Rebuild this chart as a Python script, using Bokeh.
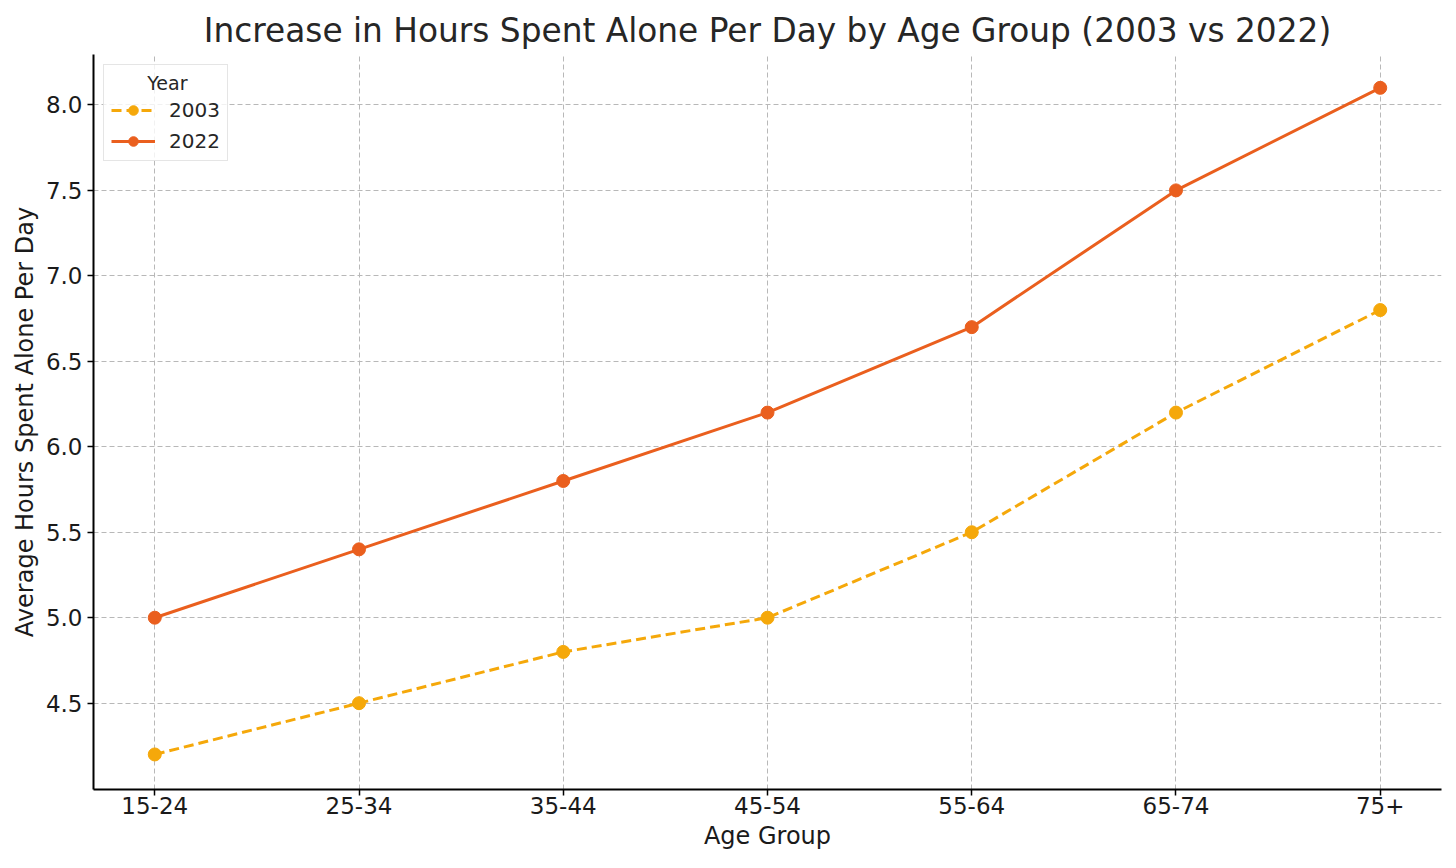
from bokeh.plotting import figure
from bokeh.models import Range1d, FixedTicker, Legend, LegendItem, CustomJSTickFormatter
from bokeh.embed import file_html
from bokeh.resources import INLINE

age_groups = ["15-24", "25-34", "35-44", "45-54", "55-64", "65-74", "75+"]
hours_2003 = [4.2, 4.5, 4.8, 5.0, 5.5, 6.2, 6.8]
hours_2022 = [5.0, 5.4, 5.8, 6.2, 6.7, 7.5, 8.1]
y_ticks = [4.5, 5.0, 5.5, 6.0, 6.5, 7.0, 7.5, 8.0]
legend_title = "Year"

x_idx = list(range(len(age_groups)))
FONT = "DejaVu Sans"
C2003 = "#F5A80A"
C2022 = "#EA5F1E"

p = figure(width=1442, height=852, output_backend="svg", toolbar_location=None,
           x_range=Range1d(-0.3, len(age_groups) - 1 + 0.3),
           y_range=Range1d(3.995, 8.295),
           title="Increase in Hours Spent Alone Per Day by Age Group (2003 vs 2022)",
           min_border_left=93, min_border_right=1, min_border_top=54, min_border_bottom=55)

p.title.text_font = FONT
p.title.text_font_size = "32.8px"
p.title.text_font_style = "normal"
p.title.text_color = "#262626"
p.title.align = "center"
p.title.standoff = 10

p.outline_line_color = None

p.xaxis.ticker = FixedTicker(ticks=x_idx)
p.xaxis.major_label_overrides = {i: g for i, g in enumerate(age_groups)}
p.yaxis.ticker = FixedTicker(ticks=y_ticks)
p.yaxis.formatter = CustomJSTickFormatter(code="return tick.toFixed(1);")

for ax in (p.xaxis, p.yaxis):
    ax.axis_line_width = 2
    ax.axis_line_color = "black"
    ax.major_tick_line_width = 1.5
    ax.major_tick_line_color = "black"
    ax.major_tick_out = 6
    ax.major_tick_in = 0
    ax.minor_tick_line_color = None
    ax.major_label_text_font = FONT
    ax.major_label_text_font_size = "23px"
    ax.major_label_text_color = "#1a1a1a"
    ax.axis_label_text_font = FONT
    ax.axis_label_text_font_size = "24px"
    ax.axis_label_text_font_style = "normal"
    ax.axis_label_text_color = "#1a1a1a"

p.xaxis.axis_label = "Age Group"
p.yaxis.axis_label = "Average Hours Spent Alone Per Day"
p.xaxis.major_label_standoff = 1
p.yaxis.major_label_standoff = 5
p.xaxis.axis_label_standoff = 5
p.yaxis.axis_label_standoff = 4

for g in (p.xgrid, p.ygrid):
    g.grid_line_color = "#b8b8b8"
    g.grid_line_width = 1
    g.grid_line_dash = "5 3"

l1 = p.line(x_idx, hours_2003, line_color=C2003, line_width=3, line_dash="10 5")
s1 = p.scatter(x_idx, hours_2003, size=13, fill_color=C2003, line_color=C2003)
l2 = p.line(x_idx, hours_2022, line_color=C2022, line_width=3)
s2 = p.scatter(x_idx, hours_2022, size=13, fill_color=C2022, line_color=C2022)

# non-breaking spaces centre the title over the entries, as matplotlib does
legend = Legend(items=[LegendItem(label="2003", renderers=[l1, s1]),
                       LegendItem(label="2022", renderers=[l2, s2])],
                location="top_left", title="\u00a0" * 6 + legend_title)
legend.title_text_font = FONT
legend.title_text_font_size = "19px"
legend.title_text_font_style = "normal"
legend.title_text_color = "#262626"
legend.title_standoff = 4
legend.label_text_font = FONT
legend.label_text_font_size = "20px"
legend.label_text_color = "#262626"
legend.glyph_width = 44
legend.glyph_height = 24
legend.label_height = 24
legend.label_standoff = 14
legend.spacing = 7
legend.padding = 7
legend.margin = 10
legend.border_line_color = "#cccccc"
legend.border_line_width = 1.5
legend.background_fill_alpha = 0.8
p.add_layout(legend)

open("out.html", "w").write(file_html(p, INLINE))
